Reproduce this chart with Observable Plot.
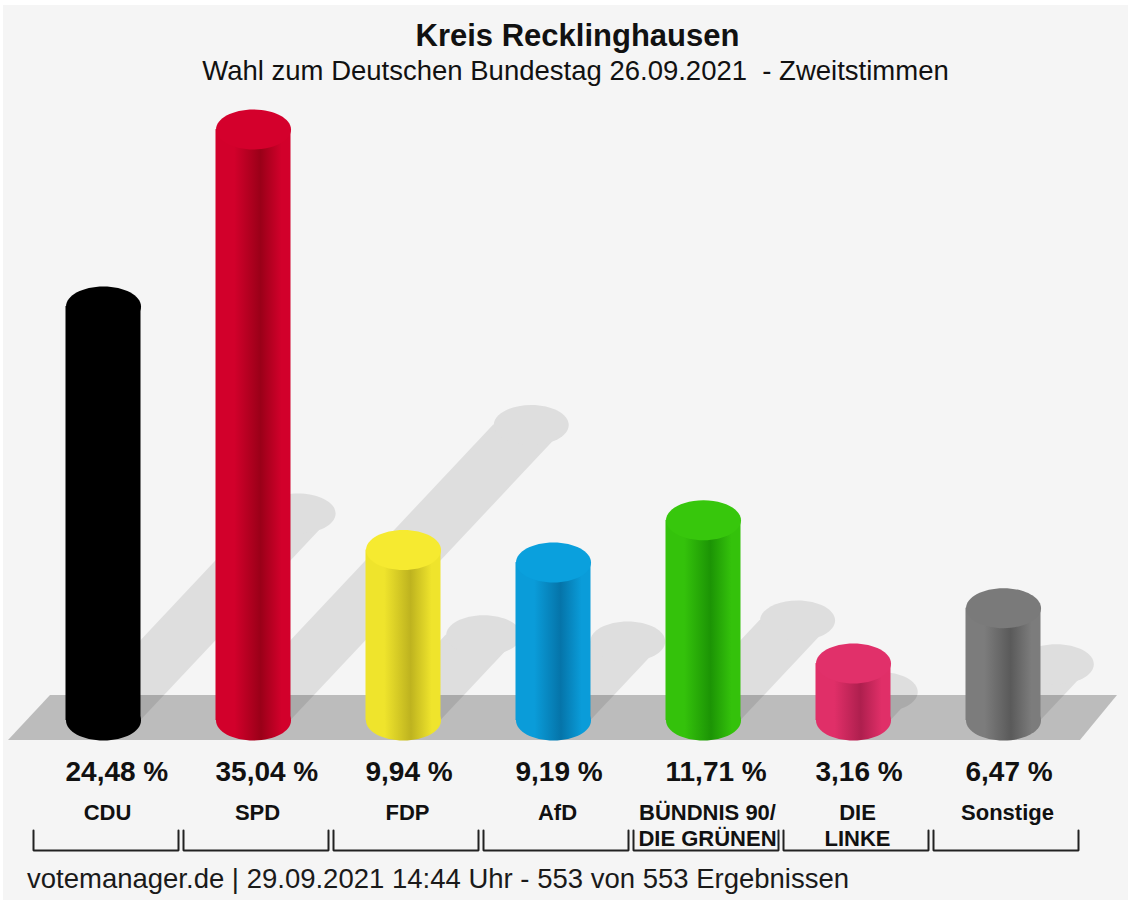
<!DOCTYPE html>
<html>
<head>
<meta charset="utf-8">
<script src="https://cdn.jsdelivr.net/npm/d3@7"></script>
<script src="https://cdn.jsdelivr.net/npm/@observablehq/plot@0.6"></script>
<style>
html,body{margin:0;padding:0;background:#ffffff;}
#panel{position:absolute;left:3px;top:5px;width:1125px;height:895px;background:#f5f5f5;}
#wrap{position:absolute;left:0;top:0;width:1133px;height:906px;font-family:"Liberation Sans",Arial,Helvetica,sans-serif;color:#111;}
#title{position:absolute;top:20px;left:22px;width:1111px;text-align:center;font-size:31px;font-weight:bold;line-height:1;}
#subtitle{position:absolute;top:57px;left:18px;width:1115px;text-align:center;font-size:27.5px;line-height:1;white-space:pre;}
#chart{position:absolute;top:95px;left:0;}
#footer{position:absolute;top:865px;left:27px;font-size:27.5px;line-height:1;white-space:pre;color:#1a1a1a;}
</style>
</head>
<body>
<div id="panel"></div>
<div id="wrap">
  <div id="title">Kreis Recklinghausen</div>
  <div id="subtitle">Wahl zum Deutschen Bundestag 26.09.2021  - Zweitstimmen</div>
  <div id="chart"></div>
  <div id="footer">votemanager.de | 29.09.2021 14:44 Uhr - 553 von 553 Ergebnissen</div>
</div>
<script>
// ---- data ----
const parties = ["CDU", "SPD", "FDP", "AfD", "BÜNDNIS 90/\nDIE GRÜNEN", "DIE\nLINKE", "Sonstige"];
const values = [24.48, 35.04, 9.94, 9.19, 11.71, 3.16, 6.47];

// ---- styles ----
const capColors  = ["#000000", "#d4002c", "#f6ea30", "#0aa0dd", "#37c70c", "#e1306a", "#7a7a7a"];
const edgeColors = ["#000000", "#d2002b", "#efe42c", "#0a9cd9", "#34c20b", "#e02f68", "#7c7c7c"];
const darkColors = ["#000000", "#9a0018", "#beb31f", "#0574a9", "#1c9405", "#ae1f4e", "#5a5a5a"];

// ---- layout constants ----
const W = 1133, H = 767;
const Y0 = 621;          // svg px of 0 %
const PPX = 16.75;       // px per percentage point
const STEP = 150;        // px per category
const BASE = -4 / PPX;   // bottom ellipse centre
const SHX = 0.47, SHY = 0.5; // shadow offset factors
const yOf = px => (Y0 - px) / PPX;

const fmt = v => v.toFixed(2).replace(".", ",") + " %";
const rows = parties.map((p, i) => ({i, party: p, value: values[i], label: fmt(values[i]), grad: `url(#bar${i})`, cap: capColors[i]}));

const tips = rows.map(d => {
  const h = (d.value - BASE) * PPX;
  return {i: d.i, x: d.i + h * SHX / STEP, y: BASE + h * SHY / PPX};
});
const shadowArea = rows.flatMap((d, k) => [
  {i: d.i, y: BASE, x1: d.i - 0.25, x2: d.i + 0.25},
  {i: d.i, y: tips[k].y, x1: tips[k].x - 0.25, x2: tips[k].x + 0.25}
]);
const ground = [
  {y: yOf(600), x1: -0.5 + 22 / STEP, x2: 6.5 + 39 / STEP},
  {y: yOf(645), x1: -0.5 - 20 / STEP, x2: 6.5 + 2 / STEP}
];
const brackets = rows.flatMap(d => {
  const l = d.i - 0.5 + 5 / STEP, r = d.i + 0.5, t = yOf(735), b = yOf(755);
  return [{i: d.i, x: l, y: t}, {i: d.i, x: l, y: b}, {i: d.i, x: r, y: b}, {i: d.i, x: r, y: t}];
});

const ellipse = {
  draw(ctx, size) {
    const rx = Math.sqrt(size / Math.PI), ry = rx * 20 / 37.5, k = 0.5523;
    ctx.moveTo(rx, 0);
    ctx.bezierCurveTo(rx, ry * k, rx * k, ry, 0, ry);
    ctx.bezierCurveTo(-rx * k, ry, -rx, ry * k, -rx, 0);
    ctx.bezierCurveTo(-rx, -ry * k, -rx * k, -ry, 0, -ry);
    ctx.bezierCurveTo(rx * k, -ry, rx, -ry * k, rx, 0);
    ctx.closePath();
  }
};

const font = "Liberation Sans, Arial, Helvetica, sans-serif";

const svg = Plot.plot({
  width: W,
  height: H,
  marginTop: 0,
  marginBottom: H - Y0,
  marginLeft: 0,
  marginRight: 0,
  x: {domain: [-0.5, 6.5], range: [28, 1078], axis: null},
  y: {domain: [0, Y0 / PPX], range: [Y0, 0], axis: null},
  color: {type: "identity"},
  style: {background: "transparent", overflow: "visible", fontFamily: font},
  marks: [
    // shadows
    Plot.areaX(shadowArea, {y: "y", x1: "x1", x2: "x2", z: "i", fill: "#dedede"}),
    Plot.dot(tips, {x: "x", y: "y", r: 37.5, symbol: ellipse, fill: "#dedede"}),
    // ground plane
    Plot.areaX(ground, {y: "y", x1: "x1", x2: "x2", fill: "#000", fillOpacity: 0.23}),
    // cylinders
    Plot.dot(rows, {x: "i", y: () => BASE, r: 37.5, symbol: ellipse, fill: "grad"}),
    Plot.rect(rows, {x1: d => d.i - 0.25, x2: d => d.i + 0.25, y1: () => BASE, y2: "value", fill: "grad"}),
    Plot.dot(rows, {x: "i", y: "value", r: 37.5, symbol: ellipse, fill: "cap"}),
    // value labels
    Plot.text(rows, {x: "i", text: "label", frameAnchor: "bottom", textAnchor: "start", lineAnchor: "bottom",
      dx: -38, dy: 64, fontSize: 28, fontWeight: "bold", fill: "#111", fontFamily: font}),
    // party labels
    Plot.text(rows, {x: "i", text: "party", frameAnchor: "bottom", lineAnchor: "top", lineHeight: 1.18,
      dx: 4, dy: 85, fontSize: 22, fontWeight: "bold", fill: "#111", fontFamily: font}),
    // brackets
    Plot.line(brackets, {x: "x", y: "y", z: "i", stroke: "#222", strokeWidth: 2, strokeLinejoin: "miter"})
  ]
});

const defs = d3.select(svg).insert("defs", ":first-child");
rows.forEach(d => {
  const g = defs.append("linearGradient").attr("id", `bar${d.i}`)
    .attr("x1", "0").attr("x2", "1").attr("y1", "0").attr("y2", "0");
  const e = edgeColors[d.i], k = darkColors[d.i];
  [[0, e], [0.25, e], [0.6, k], [0.88, e], [1, e]].forEach(([o, c]) =>
    g.append("stop").attr("offset", o).attr("stop-color", c));
});

document.getElementById("chart").appendChild(svg);
</script>
</body>
</html>
